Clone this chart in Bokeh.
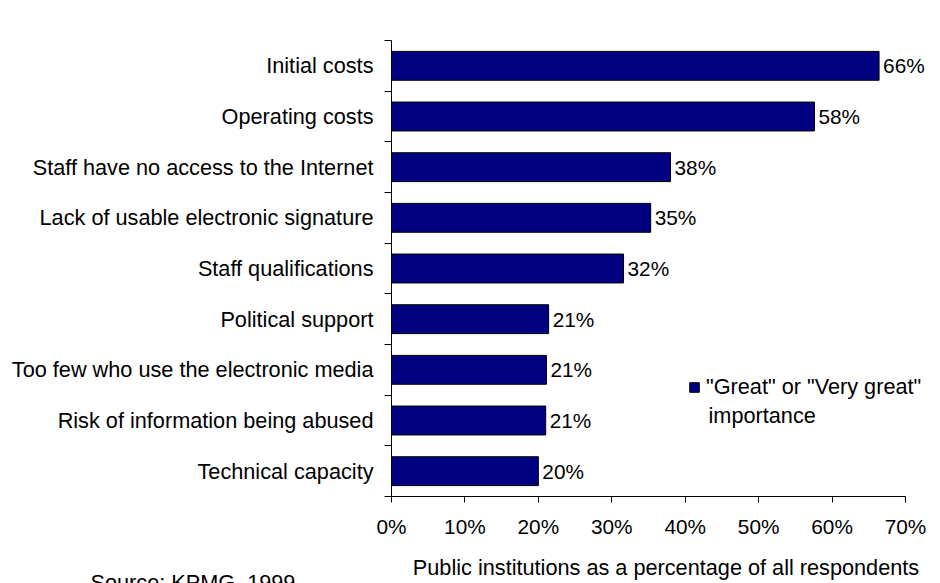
from bokeh.plotting import figure
from bokeh.models import (ColumnDataSource, FixedTicker, PrintfTickFormatter, Range1d,
                          LabelSet, Label, Legend, LegendItem, Title)
from bokeh.core.properties import value
from bokeh.embed import file_html
from bokeh.resources import INLINE

# ---- data (top to bottom as in the chart) ----
categories = [
    "Initial costs",
    "Operating costs",
    "Staff have no access to the Internet",
    "Lack of usable electronic signature",
    "Staff qualifications",
    "Political support",
    "Too few who use the electronic media",
    "Risk of information being abused",
    "Technical capacity",
]
values = [66.4, 57.6, 38.0, 35.3, 31.6, 21.4, 21.1, 21.0, 20.0]
x_ticks = [0, 10, 20, 30, 40, 50, 60, 70]
series_name = '"Great" or "Very great"'
series_name_2 = "importance"
x_title = "Public institutions as a percentage of all respondents"
source_note = "Source: KPMG, 1999"

FONT = "Liberation Sans"
FS = "21.7px"
FS_NUM = "20.8px"

n = len(categories)
ypos = [n - i - 0.5 for i in range(n)]
labels = ["%d%%" % round(v) for v in values]
src = ColumnDataSource(dict(y=ypos, v=values, lab=labels, cat=categories))

W, H = 940, 583
LEFT, TOP, BOTTOM = 391, 40, 82
px_per_unit = (905 - 391) / 70.0
x_end = (W - LEFT) / px_per_unit

p = figure(width=W, height=H, output_backend="svg", toolbar_location=None,
           x_range=Range1d(0, x_end), y_range=Range1d(0, n),
           min_border_left=LEFT, min_border_right=0, min_border_top=TOP,
           min_border_bottom=BOTTOM)
p.outline_line_color = None
p.xgrid.visible = False
p.ygrid.visible = False
p.background_fill_color = "white"
p.border_fill_color = "white"

r = p.hbar(y="y", left=0, right="v", height=0.57, source=src,
           fill_color="#000080", line_color="black", line_width=1)

# x axis
xa = p.xaxis[0]
xa.bounds = (0, 70)
xa.ticker = FixedTicker(ticks=x_ticks, minor_ticks=[])
xa.formatter = PrintfTickFormatter(format="%d%%")
xa.major_tick_out = 6
xa.major_tick_in = 0
xa.minor_tick_out = 0
xa.axis_line_color = "black"
xa.major_tick_line_color = "black"
xa.major_label_text_font = FONT
xa.major_label_text_font_size = FS_NUM
xa.major_label_text_color = "black"
xa.major_label_standoff = 12
xa.axis_label = x_title
xa.axis_label_text_font = FONT
xa.axis_label_text_font_size = FS
xa.axis_label_text_font_style = "normal"
xa.axis_label_text_color = "black"
xa.axis_label_standoff = 14

# y axis: labels at band centres, tick marks at band boundaries
ya = p.yaxis[0]
ya.ticker = FixedTicker(ticks=ypos, minor_ticks=list(range(n + 1)))
ya.major_label_overrides = {y: c for y, c in zip(ypos, categories)}
ya.major_tick_out = 0
ya.major_tick_in = 0
ya.minor_tick_out = 7
ya.minor_tick_in = 0
ya.minor_tick_line_color = "black"
ya.axis_line_color = "black"
ya.major_label_text_font = FONT
ya.major_label_text_font_size = FS
ya.major_label_text_color = "black"
ya.major_label_standoff = 11

# value labels
ls = LabelSet(x="v", y="y", text="lab", source=src, x_offset=4,
              text_baseline="middle", text_align="left",
              text_font=value(FONT), text_font_size=value(FS_NUM), text_color="black")
p.add_layout(ls)

# legend
leg = Legend(items=[LegendItem(label=series_name, renderers=[r])],
             location=(297, 96), padding=0, margin=0, glyph_width=12, glyph_height=12,
             label_standoff=6, label_text_font=FONT, label_text_font_size=FS,
             label_text_color="black", background_fill_alpha=0, border_line_alpha=0)
p.add_layout(leg, "center")
p.add_layout(Label(x=317, y=81, x_units="screen", y_units="screen", text=series_name_2,
                   text_font=FONT, text_font_size=FS, text_color="black",
                   text_baseline="middle"))

# source note, bottom-left (partly cut at the page bottom, as in the reference)
p.add_layout(Title(text=source_note, align="left", vertical_align="top",
                   offset=90 - LEFT, standoff=-26, text_font=FONT, text_font_size=FS,
                   text_font_style="normal", text_color="black"), "below")

open("out.html", "w").write(file_html(p, INLINE))
